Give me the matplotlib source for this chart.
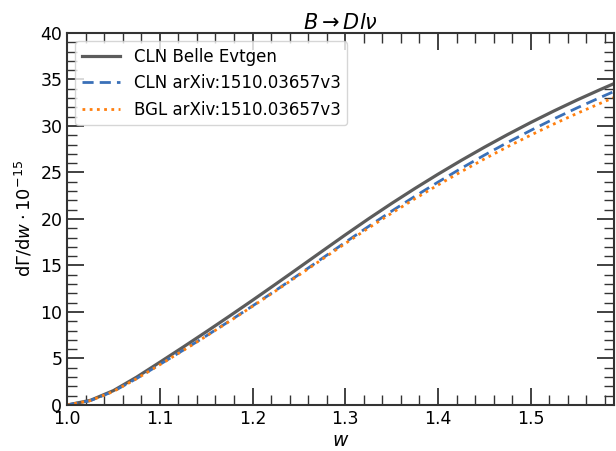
import matplotlib
matplotlib.use("Agg")
import matplotlib.pyplot as plt
from matplotlib.ticker import AutoMinorLocator

# w grid and dGamma/dw values
w = [1.000, 1.025, 1.050, 1.075, 1.100, 1.125, 1.150, 1.175, 1.200, 1.225,
     1.250, 1.275, 1.300, 1.325, 1.350, 1.375, 1.400, 1.425, 1.450, 1.475,
     1.500, 1.525, 1.550, 1.575, 1.590]
cln_belle = [0.0, 0.50, 1.55, 3.00, 4.60, 6.22, 7.87, 9.55, 11.26, 13.00,
             14.76, 16.53, 18.29, 20.01, 21.67, 23.27, 24.81, 26.29, 27.71, 29.07,
             30.37, 31.61, 32.79, 33.91, 34.56]
cln_arxiv = [0.0, 0.47, 1.47, 2.85, 4.36, 5.88, 7.43, 9.02, 10.65, 12.32,
             14.03, 15.76, 17.49, 19.19, 20.84, 22.43, 23.96, 25.44, 26.86, 28.22,
             29.52, 30.76, 31.94, 33.06, 33.71]
bgl_arxiv = [0.0, 0.47, 1.46, 2.83, 4.33, 5.85, 7.40, 8.99, 10.61, 12.27,
             13.96, 15.66, 17.36, 19.02, 20.62, 22.17, 23.65, 25.08, 26.45, 27.76,
             29.01, 30.21, 31.35, 32.43, 33.06]

fig = plt.figure(figsize=(6.16, 4.51), dpi=100)
ax = fig.add_axes([0.109, 0.102, 0.888, 0.825])

ax.plot(w, cln_belle, color="#5c5c5c", lw=2.3, label="CLN Belle Evtgen")
ax.plot(w, cln_arxiv, color="#3a70b8", lw=2.0, ls=(0, (4, 2.2)), label="CLN arXiv:1510.03657v3")
ax.plot(w, bgl_arxiv, color="#ff7f0e", lw=2.0, ls=(0, (1, 1.6)), label="BGL arXiv:1510.03657v3")

ax.set_xlim(1.0, 1.59)
ax.set_ylim(0, 40)
ax.set_xticks([1.0, 1.1, 1.2, 1.3, 1.4, 1.5])
ax.xaxis.set_minor_locator(AutoMinorLocator(5))
ax.yaxis.set_minor_locator(AutoMinorLocator(5))
ax.tick_params(which="both", direction="in", top=True, right=True, labelsize=12.5, color="#333333")
ax.tick_params(which="major", length=12, width=1.3)
ax.tick_params(which="minor", length=7, width=1.0)
for s in ax.spines.values():
    s.set_linewidth(1.5)
    s.set_color("#333333")

ax.set_xlabel(r"$w$", fontsize=13.5, labelpad=2)
ax.set_ylabel(r"$\mathrm{d}\Gamma/\mathrm{d}w\cdot10^{-15}$", fontsize=13)
ax.set_title(r"$B \rightarrow D l \nu$", fontsize=15, pad=3)
ax.legend(loc="upper left", fontsize=12, handlelength=2.3, borderaxespad=0.5)

fig.savefig("out.png", dpi=100)
